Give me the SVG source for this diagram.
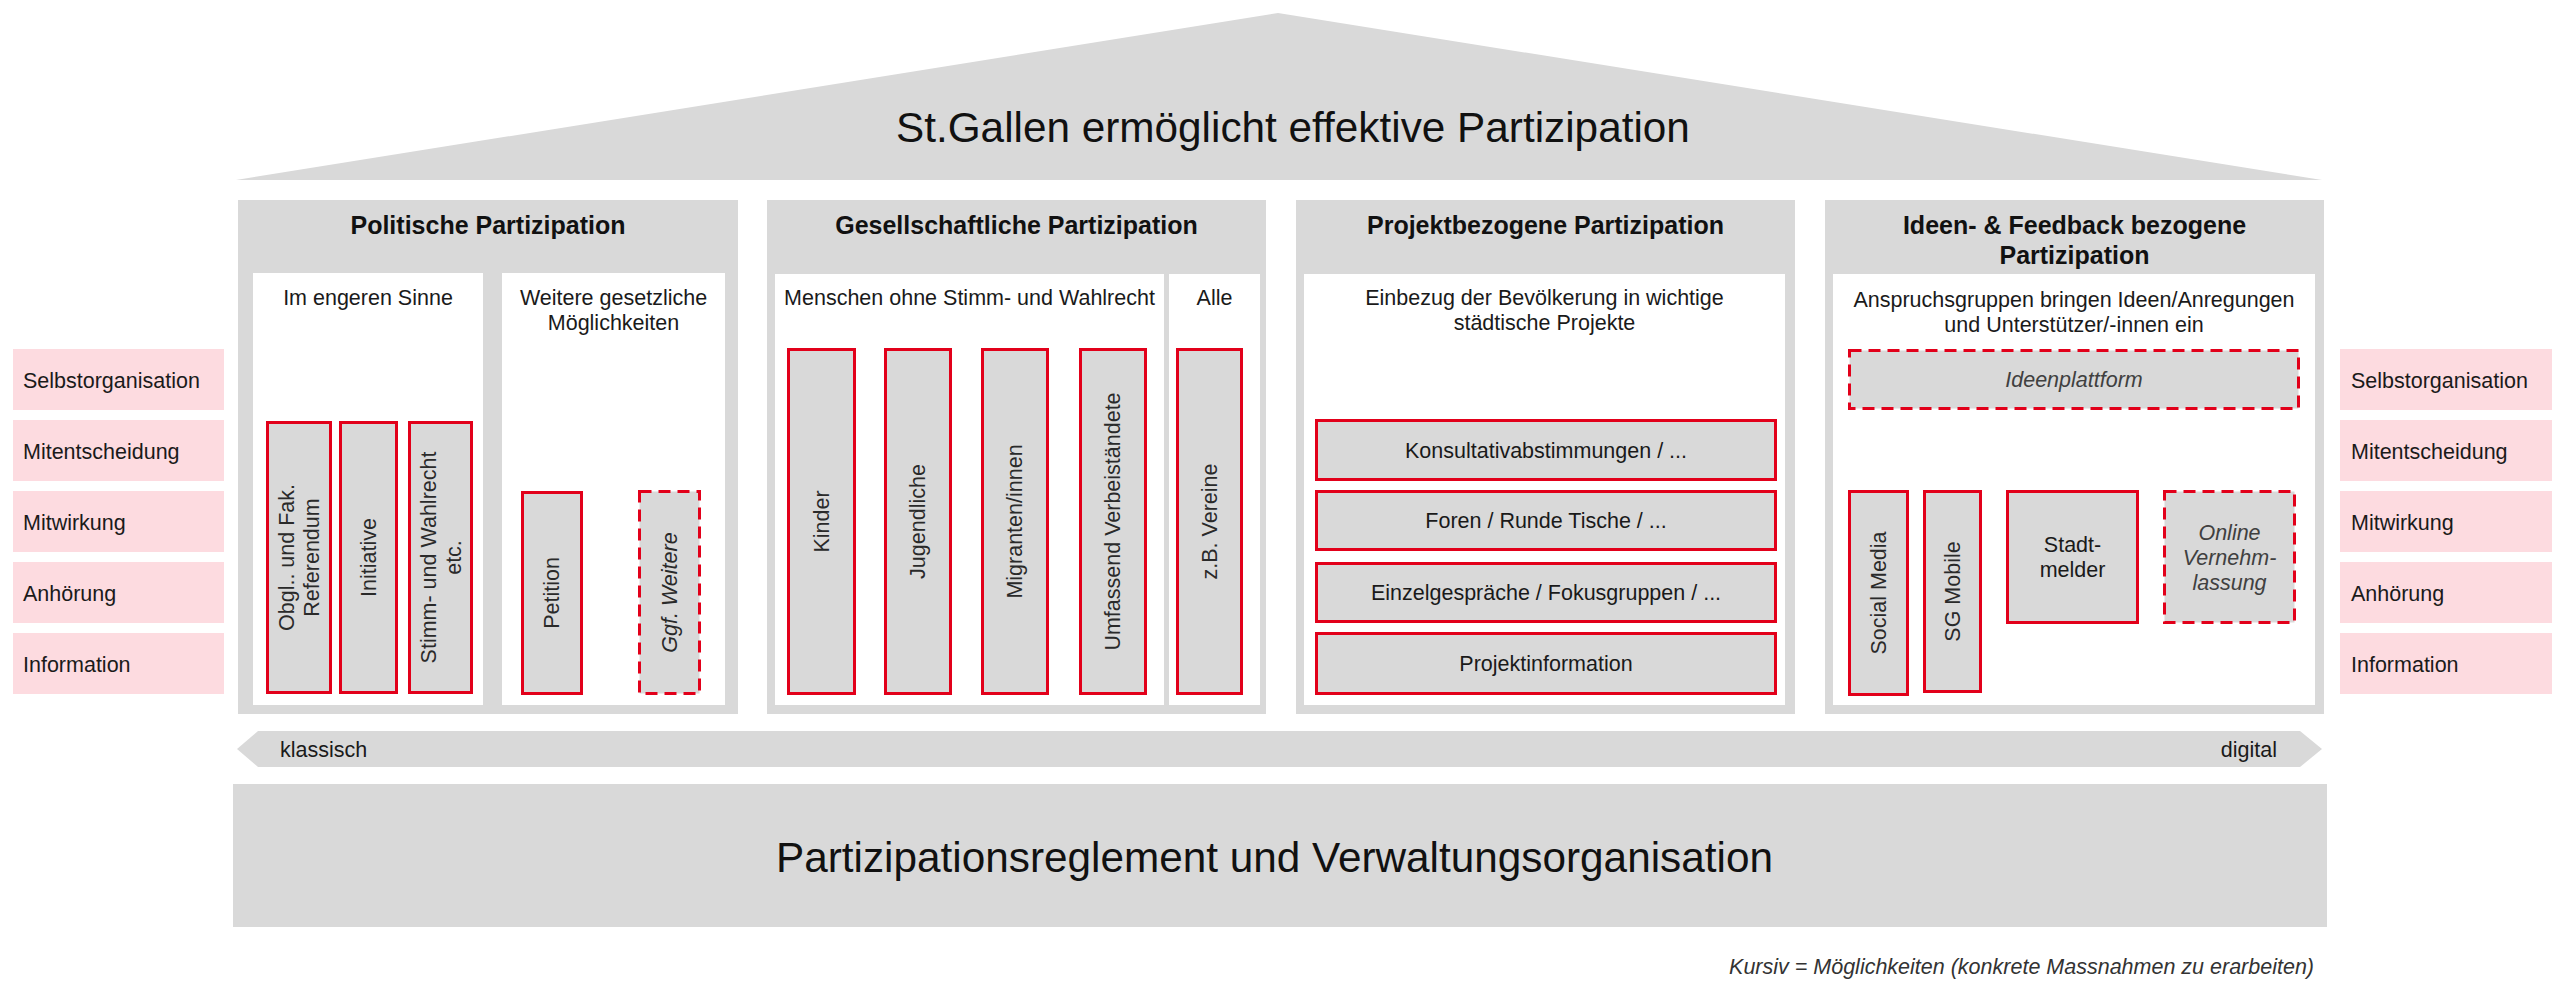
<svg xmlns="http://www.w3.org/2000/svg" width="2560" height="991" viewBox="0 0 2560 991">
<style>
text{font-family:"Liberation Sans",Arial,sans-serif;fill:#1a1a1a}
.t{font-size:21.5px}
.c{text-anchor:middle}
.h{font-size:25px;font-weight:bold;text-anchor:middle;fill:#111}
.big{font-size:42.3px;fill:#111}
.it{font-style:italic;fill:#404040}
.v{font-size:21.5px;text-anchor:middle;dominant-baseline:central;fill:#2a2a2a}
.gray{fill:#d9d9d9}
.white{fill:#ffffff}
.pink{fill:#fddbe0}
.box{fill:#d9d9d9;stroke:#e2001a;stroke-width:3}
.dash{fill:#d9d9d9;stroke:#e2001a;stroke-width:3;stroke-dasharray:12 7}
</style>
<rect width="2560" height="991" fill="#ffffff"/>

<g id="roof">
<polygon class="gray" points="236,180 1278,13 2322,180"/>
<text class="big" x="896" y="141.5">St.Gallen ermöglicht effektive Partizipation</text>
</g>

<g id="levels-left">
<rect class="pink" x="13" y="349" width="211" height="61"/>
<rect class="pink" x="13" y="420" width="211" height="61"/>
<rect class="pink" x="13" y="491" width="211" height="61"/>
<rect class="pink" x="13" y="562" width="211" height="61"/>
<rect class="pink" x="13" y="633" width="211" height="61"/>
<text class="t" x="23" y="387.5">Selbstorganisation</text>
<text class="t" x="23" y="458.5">Mitentscheidung</text>
<text class="t" x="23" y="529.5">Mitwirkung</text>
<text class="t" x="23" y="600.5">Anhörung</text>
<text class="t" x="23" y="671.5">Information</text>
</g>

<g id="levels-right">
<rect class="pink" x="2340" y="349" width="212" height="61"/>
<rect class="pink" x="2340" y="420" width="212" height="61"/>
<rect class="pink" x="2340" y="491" width="212" height="61"/>
<rect class="pink" x="2340" y="562" width="212" height="61"/>
<rect class="pink" x="2340" y="633" width="212" height="61"/>
<text class="t" x="2351" y="387.5">Selbstorganisation</text>
<text class="t" x="2351" y="458.5">Mitentscheidung</text>
<text class="t" x="2351" y="529.5">Mitwirkung</text>
<text class="t" x="2351" y="600.5">Anhörung</text>
<text class="t" x="2351" y="671.5">Information</text>
</g>

<g id="panel-politische">
<rect class="gray" x="238" y="200" width="500" height="514"/>
<text class="h" x="488" y="234">Politische Partizipation</text>
<rect class="white" x="253" y="273" width="230" height="432"/>
<rect class="white" x="502" y="273" width="223" height="432"/>
<text class="t c" x="368" y="305">Im engeren Sinne</text>
<text class="t c" x="613.5" y="305">Weitere gesetzliche</text>
<text class="t c" x="613.5" y="330">Möglichkeiten</text>
<g id="referendum">
<rect class="box" x="267.5" y="422.5" width="63" height="270"/>
<text class="v" transform="translate(299,557.5) rotate(-90)"><tspan x="0" y="-12.5">Obgl.. und Fak.</tspan><tspan x="0" y="12.5">Referendum</tspan></text>
</g>
<g id="initiative">
<rect class="box" x="340.5" y="422.5" width="56" height="270"/>
<text class="v" transform="translate(368.5,557.5) rotate(-90)">Initiative</text>
</g>
<g id="stimmrecht">
<rect class="box" x="409.5" y="422.5" width="62" height="270"/>
<text class="v" transform="translate(441,557.5) rotate(-90)"><tspan x="0" y="-12.5">Stimm- und Wahlrecht</tspan><tspan x="0" y="12.5">etc.</tspan></text>
</g>
<g id="petition">
<rect class="box" x="522.5" y="492.5" width="59" height="201"/>
<text class="v" transform="translate(552,593) rotate(-90)">Petition</text>
</g>
<g id="ggf-weitere">
<rect class="dash" x="639.5" y="491.5" width="60" height="202"/>
<text class="v it" transform="translate(669.5,592.5) rotate(-90)">Ggf. Weitere</text>
</g>
</g>

<g id="panel-gesellschaftliche">
<rect class="gray" x="767" y="200" width="499" height="514"/>
<text class="h" x="1016.5" y="234">Gesellschaftliche Partizipation</text>
<rect class="white" x="775" y="274" width="389" height="431"/>
<rect class="white" x="1169" y="274" width="91" height="431"/>
<text class="t c" x="969.5" y="305">Menschen ohne Stimm- und Wahlrecht</text>
<text class="t c" x="1214.5" y="305">Alle</text>
<g id="kinder">
<rect class="box" x="788.5" y="349.5" width="66" height="344"/>
<text class="v" transform="translate(821.5,521.5) rotate(-90)">Kinder</text>
</g>
<g id="jugendliche">
<rect class="box" x="885.5" y="349.5" width="65" height="344"/>
<text class="v" transform="translate(918,521.5) rotate(-90)">Jugendliche</text>
</g>
<g id="migranten">
<rect class="box" x="982.5" y="349.5" width="65" height="344"/>
<text class="v" transform="translate(1015,521.5) rotate(-90)">Migranten/innen</text>
</g>
<g id="verbeistaendete">
<rect class="box" x="1080.5" y="349.5" width="65" height="344"/>
<text class="v" transform="translate(1113,521.5) rotate(-90)">Umfassend Verbeiständete</text>
</g>
<g id="vereine">
<rect class="box" x="1177.5" y="349.5" width="64" height="344"/>
<text class="v" transform="translate(1209.5,521.5) rotate(-90)">z.B. Vereine</text>
</g>
</g>

<g id="panel-projektbezogene">
<rect class="gray" x="1296" y="200" width="499" height="514"/>
<text class="h" x="1545.5" y="234">Projektbezogene Partizipation</text>
<rect class="white" x="1304" y="274" width="481" height="431"/>
<text class="t c" x="1544.5" y="305">Einbezug der Bevölkerung in wichtige</text>
<text class="t c" x="1544.5" y="330">städtische Projekte</text>
<g id="konsultativ">
<rect class="box" x="1316.5" y="420.5" width="459" height="59"/>
<text class="t c" x="1546" y="457.5">Konsultativabstimmungen / ...</text>
</g>
<g id="foren">
<rect class="box" x="1316.5" y="491.5" width="459" height="58"/>
<text class="t c" x="1546" y="528">Foren / Runde Tische / ...</text>
</g>
<g id="einzelgespraeche">
<rect class="box" x="1316.5" y="563.5" width="459" height="58"/>
<text class="t c" x="1546" y="600">Einzelgespräche / Fokusgruppen / ...</text>
</g>
<g id="projektinformation">
<rect class="box" x="1316.5" y="633.5" width="459" height="60"/>
<text class="t c" x="1546" y="671">Projektinformation</text>
</g>
</g>

<g id="panel-ideen">
<rect class="gray" x="1825" y="200" width="499" height="514"/>
<text class="h" x="2074.5" y="234">Ideen- &amp; Feedback bezogene</text>
<text class="h" x="2074.5" y="264">Partizipation</text>
<rect class="white" x="1833" y="274" width="482" height="431"/>
<text class="t c" x="2074" y="306.5">Anspruchsgruppen bringen Ideen/Anregungen</text>
<text class="t c" x="2074" y="331.5">und Unterstützer/-innen ein</text>
<g id="ideenplattform">
<rect class="dash" x="1849.5" y="350.5" width="449" height="58"/>
<text class="t c it" x="2074" y="387">Ideenplattform</text>
</g>
<g id="social-media">
<rect class="box" x="1849.5" y="491.5" width="58" height="203"/>
<text class="v" transform="translate(1878.5,593) rotate(-90)">Social Media</text>
</g>
<g id="sg-mobile">
<rect class="box" x="1924.5" y="491.5" width="56" height="200"/>
<text class="v" transform="translate(1952.5,591.5) rotate(-90)">SG Mobile</text>
</g>
<g id="stadtmelder">
<rect class="box" x="2007.5" y="491.5" width="130" height="131"/>
<text class="t c" x="2072.5" y="552">Stadt-</text>
<text class="t c" x="2072.5" y="577">melder</text>
</g>
<g id="online-vernehmlassung">
<rect class="dash" x="2164.5" y="491.5" width="130" height="131"/>
<text class="t c it" x="2229.5" y="539.5">Online</text>
<text class="t c it" x="2229.5" y="564.5">Vernehm-</text>
<text class="t c it" x="2229.5" y="589.5">lassung</text>
</g>
</g>

<g id="connectors">
<polygon class="gray" points="237,749 258,731 2300,731 2322,749 2300,767 258,767"/>
<text class="t" x="280" y="757">klassisch</text>
<text class="t" x="2277" y="757" text-anchor="end">digital</text>
</g>

<g id="base">
<rect class="gray" x="233" y="784" width="2094" height="143"/>
<text class="big" x="776" y="872">Partizipationsreglement und Verwaltungsorganisation</text>
</g>

<g id="footnote">
<text class="t it" x="2314" y="974" text-anchor="end" style="fill:#333">Kursiv = Möglichkeiten (konkrete Massnahmen zu erarbeiten)</text>
</g>
</svg>
